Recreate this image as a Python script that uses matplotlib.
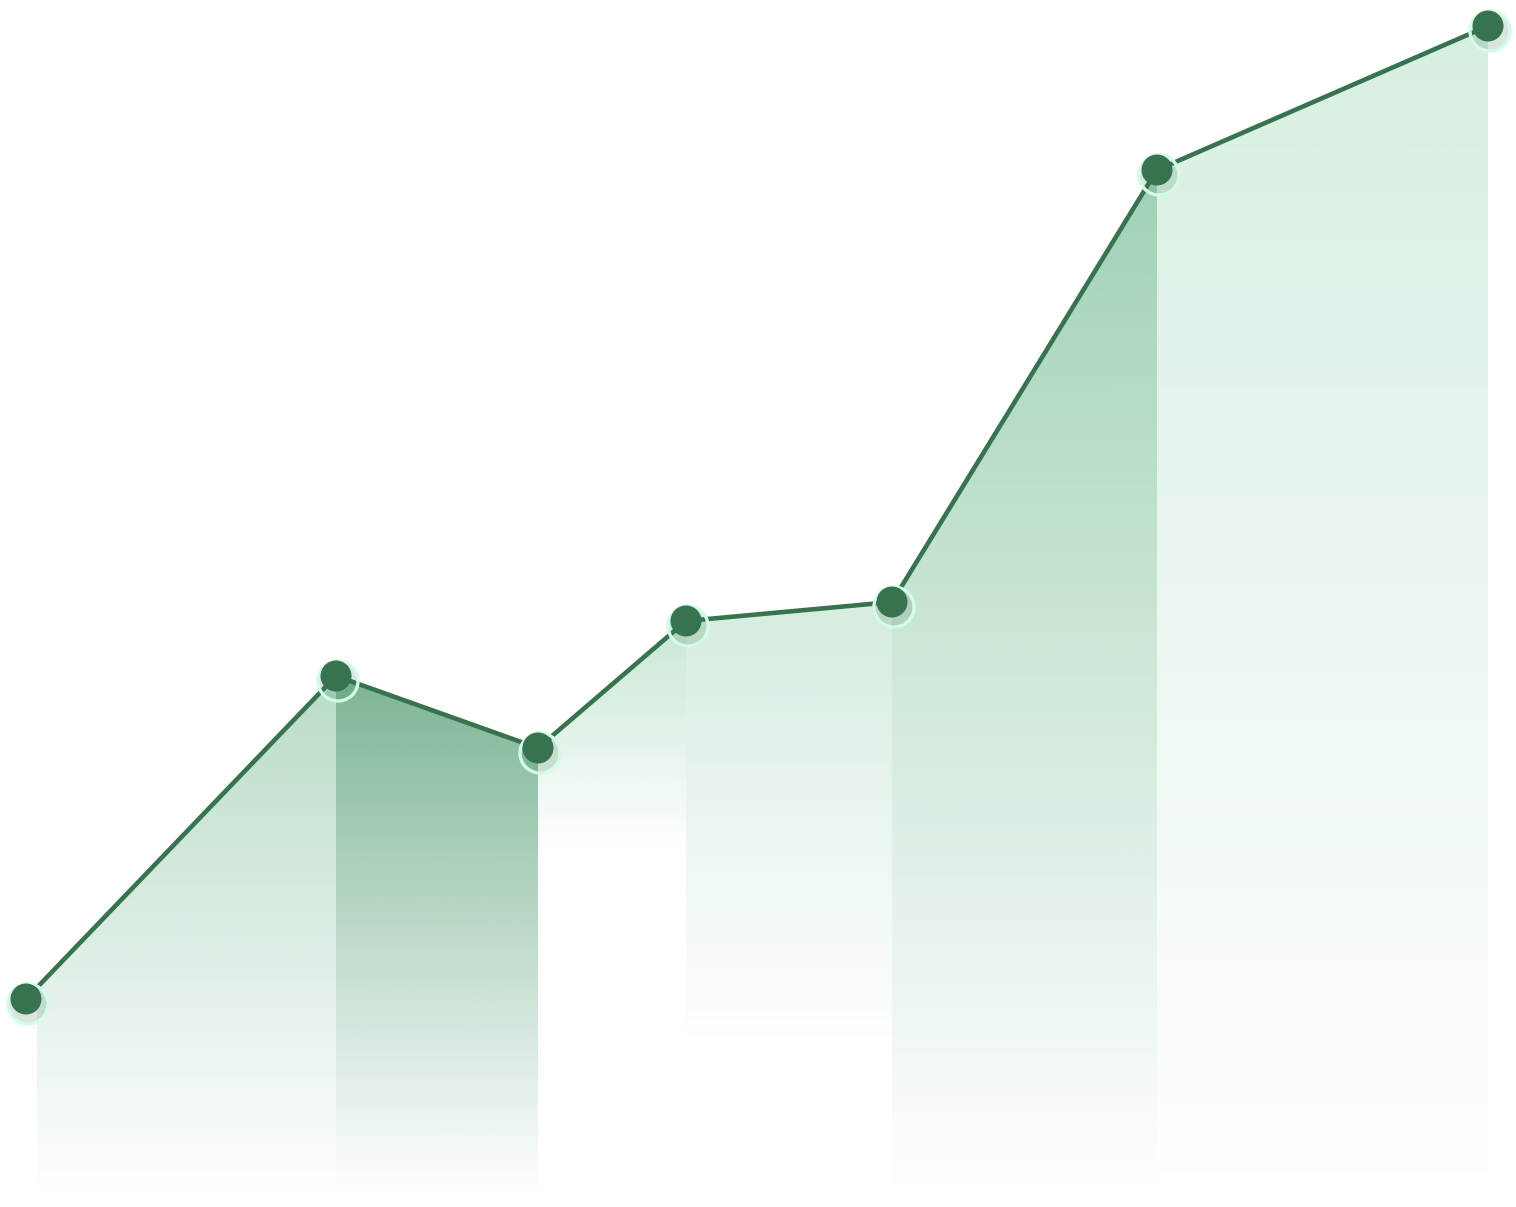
import numpy as np
import matplotlib
matplotlib.use('Agg')
import matplotlib.pyplot as plt
from matplotlib.patches import Polygon, Circle
from matplotlib.colors import to_rgb

# data: point positions and heights above the baseline
x_pos = [26, 336, 538, 686, 892, 1157, 1488]
values = [196, 519, 447, 574, 593, 1025, 1169]

# per segment gradient: alpha at the top, height where it fades out
seg_alpha = [0.36, 0.64, 0.28, 0.21, 0.48, 0.21]
seg_fade = [0, 0, 345, 150, 0, 0]
seg_color = ['#3a9d63', '#338c59', '#3aa765', '#3aa765', '#38a062', '#3fb36e']

line_color = '#37734f'
ring_color = '#d2fbe8'

fig = plt.figure(figsize=(15.16, 12.07), dpi=100)
ax = fig.add_axes([0, 0, 1, 1])
ax.set_xlim(0, 1516)
ax.set_ylim(-12, 1195)
ax.axis('off')

# gradient fills, one per segment
for i in range(len(x_pos) - 1):
    x0, x1 = x_pos[i], x_pos[i + 1]
    y0, y1 = values[i], values[i + 1]
    if i == 0:
        # fill starts a little right of the first point
        xs = 37
        y0 = np.interp(xs, [x0, x1], [y0, y1])
        x0 = xs
    top = max(y0, y1)
    base = 0
    n = 400
    rgb = to_rgb(seg_color[i])
    img = np.zeros((n, 1, 4))
    img[:, 0, :3] = rgb
    hh = np.linspace(base, top, n)
    a = (hh - seg_fade[i]) / (top - seg_fade[i])
    a = np.clip(a, 0, 1) * seg_alpha[i]
    img[:, 0, 3] = a
    im = ax.imshow(img, extent=[x0, x1, base, top], origin='lower',
                   aspect='auto', interpolation='bilinear', zorder=1)
    poly = Polygon([(x0, y0), (x1, y1), (x1, base), (x0, base)],
                   closed=True, facecolor='none', edgecolor='none')
    ax.add_patch(poly)
    im.set_clip_path(poly)

# line
ax.plot(x_pos, values, color=line_color, lw=3.3, zorder=3,
        solid_capstyle='round')

# rings and dots
for xv, yv in zip(x_pos, values):
    ax.add_patch(Circle((xv + 2, yv - 5), 20, facecolor=line_color,
                        alpha=0.18, edgecolor='none', zorder=4))
    ax.add_patch(Circle((xv + 2, yv - 5), 20, facecolor='none',
                        edgecolor=ring_color, lw=2.4, zorder=4.5))
    ax.add_patch(Circle((xv, yv), 15.5, facecolor=line_color,
                        edgecolor='none', zorder=5))

fig.savefig('out.png', dpi=100, facecolor='white')
